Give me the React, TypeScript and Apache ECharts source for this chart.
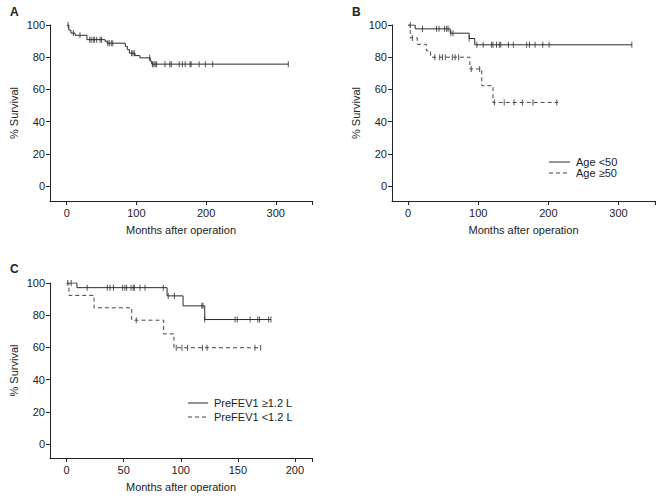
import React, { useEffect, useRef } from "react";
import * as echarts from "echarts";

// Panel A: all patients
const aEventTimes = [3, 6, 12, 29, 55, 58, 84, 87, 90, 98, 105, 120, 122];
const aEventSurv = [96.8, 95.0, 93.6, 90.9, 89.9, 88.7, 86.7, 84.7, 82.5, 81.0, 79.6, 77.6, 75.7];
const aCensor = [2, 9.5, 19, 33, 35, 38, 40, 43, 48, 50, 59, 61, 64, 66, 93, 95, 97, 119, 123, 125, 127, 129, 141, 148, 150, 161.5, 166, 170, 177, 178.5, 190, 199, 209.5, 318];
const aEnd = 318;

// Panel B: Age <50 / Age >=50
const bYoungTimes = [10, 60, 87, 95];
const bYoungSurv = [97.6, 94.9, 91.6, 87.7];
const bYoungCensor = [3, 20.5, 40.5, 44, 52, 55, 57, 61, 64, 87, 98, 107, 119, 121, 126, 130, 132, 143, 150, 169, 173, 181, 192, 201, 319];
const bYoungEnd = 319;
const bOldTimes = [3, 13, 26, 32, 88, 105, 121];
const bOldSurv = [92.0, 88.0, 84.0, 80.0, 72.7, 62.3, 51.9];
const bOldCensor = [6, 38, 45, 49, 53, 63, 67, 72, 90, 102, 123, 137, 151, 163, 178, 212];
const bOldEnd = 214;

// Panel C: PreFEV1
const cHighTimes = [9, 88, 102, 121];
const cHighSurv = [97.1, 92.0, 85.8, 77.3];
const cHighCensor = [1, 4, 18, 35.6, 38, 41, 49, 51, 52.6, 56.4, 58.4, 59.3, 64.3, 68.7, 84.7, 89, 94.4, 118.4, 119.5, 121, 147.6, 149.5, 160.8, 167.5, 169, 177, 179];
const cHighEnd = 179;
const cLowTimes = [2, 24, 57, 85, 94];
const cLowSurv = [92.3, 84.6, 76.9, 68.4, 59.8];
const cLowCensor = [61, 96, 101, 106, 119, 123, 165, 170];
const cLowEnd = 170;

const yTicks = [0, 20, 40, 60, 80, 100];
const xTicksAB = [0, 100, 200, 300];
const xTicksC = [0, 50, 100, 150, 200];
const legendB = ["Age <50", "Age ≥50"];
const legendC = ["PreFEV1 ≥1.2 L", "PreFEV1 <1.2 L"];

const FONT = "'Liberation Sans', Arial, Helvetica, sans-serif";
const INK = "#222";
const SOLID = "#2a2a2a";
const DASH = "#444";

function kmLine(times: number[], surv: number[], end: number) {
  const pts: number[][] = [[0, 100]];
  times.forEach((t, i) => pts.push([t, surv[i]]));
  pts.push([end, surv[surv.length - 1]]);
  return pts;
}
function survAt(times: number[], surv: number[], t: number) {
  let s = 100;
  times.forEach((tt, i) => {
    if (tt <= t) s = surv[i];
  });
  return s;
}
function censorPts(times: number[], surv: number[], cens: number[]) {
  return cens.map((c) => [c, survAt(times, surv, c)]);
}

function xAxis(gridIndex: number, min: number, max: number, ticks: number[]) {
  return {
    type: "value",
    gridIndex,
    min,
    max,
    name: "Months after operation",
    nameLocation: "middle",
    nameGap: 23,
    nameTextStyle: { fontSize: 11, color: INK, fontFamily: FONT },
    axisLine: { show: true, onZero: false, lineStyle: { color: INK, width: 1 } },
    axisTick: { show: true, length: 4, inside: false, customValues: [...ticks, max], lineStyle: { color: INK } },
    axisLabel: { customValues: ticks, fontSize: 11, color: INK, fontFamily: FONT, margin: 6 },
    splitLine: { show: false },
  };
}
function yAxis(gridIndex: number, min: number) {
  return {
    type: "value",
    gridIndex,
    min,
    max: 100,
    name: "% Survival",
    nameLocation: "middle",
    nameGap: 31,
    nameTextStyle: { fontSize: 11, color: INK, fontFamily: FONT },
    axisLine: { show: true, onZero: false, lineStyle: { color: INK, width: 1 } },
    axisTick: { show: true, length: 4, inside: false, customValues: yTicks, lineStyle: { color: INK } },
    axisLabel: { customValues: yTicks, fontSize: 11, color: INK, fontFamily: FONT, margin: 5 },
    splitLine: { show: false },
  };
}

function lineSeries(name: string, idx: number, data: number[][], dashed: boolean) {
  return {
    type: "line",
    name,
    xAxisIndex: idx,
    yAxisIndex: idx,
    step: "end",
    symbol: "none",
    data,
    lineStyle: { color: dashed ? DASH : SOLID, width: 1, type: dashed ? [4, 3] : "solid" },
    itemStyle: { color: dashed ? DASH : SOLID },
  };
}
function censorSeries(name: string, idx: number, data: number[][]) {
  return {
    type: "scatter",
    name,
    xAxisIndex: idx,
    yAxisIndex: idx,
    symbol: "rect",
    symbolSize: [1, 6],
    data,
    itemStyle: { color: SOLID },
  };
}

function legendBlock(labels: string[], x: number, y: number, lineW: number, rowGap: number) {
  const els: any[] = [];
  labels.forEach((lab, i) => {
    const cy = y + i * rowGap;
    els.push({
      type: "line",
      shape: { x1: x, y1: cy, x2: x + lineW, y2: cy },
      style: { stroke: i === 0 ? SOLID : DASH, lineWidth: 1, lineDash: i === 0 ? null : [4, 3] },
    });
    els.push({
      type: "text",
      x: x + lineW + 6,
      y: cy,
      style: { text: lab, fontSize: 11, fill: INK, fontFamily: FONT, verticalAlign: "middle", align: "left" },
    });
  });
  return els;
}

export default function App() {
  const ref = useRef<HTMLDivElement>(null);
  useEffect(() => {
    if (!ref.current) return;
    const chart = echarts.init(ref.current, null, { renderer: "svg" });
    const option: any = {
      animation: false,
      backgroundColor: "#fff",
      textStyle: { fontFamily: FONT },
      title: [
        { text: "A", left: 10, top: 6, padding: 0, textStyle: { fontSize: 12, fontWeight: "bold", color: INK, fontFamily: FONT } },
        { text: "B", left: 352, top: 6, padding: 0, textStyle: { fontSize: 12, fontWeight: "bold", color: INK, fontFamily: FONT } },
        { text: "C", left: 10, top: 263, padding: 0, textStyle: { fontSize: 12, fontWeight: "bold", color: INK, fontFamily: FONT } },
      ],
      grid: [
        { left: 50, top: 25, width: 262, height: 176 },
        { left: 392, top: 25, width: 263, height: 176 },
        { left: 50, top: 283, width: 262, height: 175 },
      ],
      xAxis: [xAxis(0, -24, 352, xTicksAB), xAxis(1, -23, 352, xTicksAB), xAxis(2, -14.6, 215, xTicksC)],
      yAxis: [yAxis(0, -9.3), yAxis(1, -9.3), yAxis(2, -8.7)],
      graphic: [...legendBlock(legendB, 549, 162, 21, 11), ...legendBlock(legendC, 188, 403, 20, 14)],
      series: [
        lineSeries("All", 0, kmLine(aEventTimes, aEventSurv, aEnd), false),
        censorSeries("All censored", 0, censorPts(aEventTimes, aEventSurv, aCensor)),
        lineSeries(legendB[0], 1, kmLine(bYoungTimes, bYoungSurv, bYoungEnd), false),
        censorSeries("Age <50 censored", 1, censorPts(bYoungTimes, bYoungSurv, bYoungCensor)),
        lineSeries(legendB[1], 1, kmLine(bOldTimes, bOldSurv, bOldEnd), true),
        censorSeries("Age ≥50 censored", 1, censorPts(bOldTimes, bOldSurv, bOldCensor)),
        lineSeries(legendC[0], 2, kmLine(cHighTimes, cHighSurv, cHighEnd), false),
        censorSeries("PreFEV1 ≥1.2 L censored", 2, censorPts(cHighTimes, cHighSurv, cHighCensor)),
        lineSeries(legendC[1], 2, kmLine(cLowTimes, cLowSurv, cLowEnd), true),
        censorSeries("PreFEV1 <1.2 L censored", 2, censorPts(cLowTimes, cLowSurv, cLowCensor)),
      ],
    };
    chart.setOption(option);
    return () => chart.dispose();
  }, []);
  return <div ref={ref} style={{ width: 661, height: 500, position: "absolute", left: 0, top: 0 }} />;
}
